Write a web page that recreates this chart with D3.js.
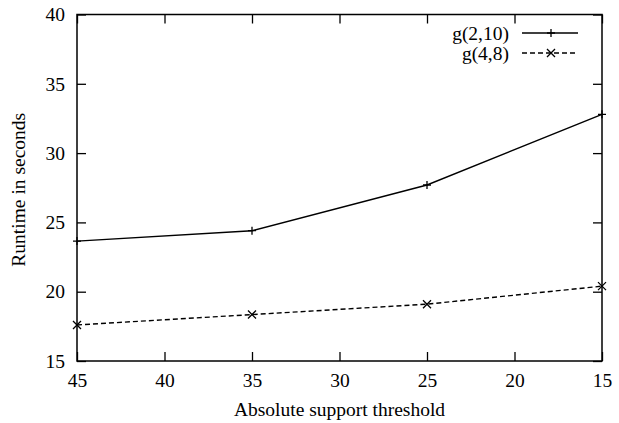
<!DOCTYPE html>
<html>
<head>
<meta charset="utf-8">
<script src="https://cdn.jsdelivr.net/npm/d3@7.9.0/dist/d3.min.js"></script>
<style>
  body { margin: 0; background: #fff; }
</style>
</head>
<body>
<div id="chart"></div>
<script>
// ---------- Data ----------
const thresholds = [45, 35, 25, 15];
const g210 = [23.65, 24.4, 27.7, 32.8];
const g48 = [17.6, 18.35, 19.1, 20.4];
const xTicks = [45, 40, 35, 30, 25, 20, 15];
const yTicks = [15, 20, 25, 30, 35, 40];

const series = [
  { name: "g(2,10)", values: g210, dash: null, marker: "plus" },
  { name: "g(4,8)", values: g48, dash: "5,3", marker: "cross" }
];

const FONT = "'Liberation Serif', 'Times New Roman', serif";
const FS = "19.5px";

// ---------- Chart ----------
const width = 619, height = 423;
const usable = { left: 77, right: 602, top: 14.5, bottom: 361 };

const svg = d3.select("#chart")
  .append("svg")
  .attr("width", width)
  .attr("height", height);

const xScale = d3.scaleLinear().domain([45, 15]).range([usable.left, usable.right]);
const yScale = d3.scaleLinear().domain([15, 40]).range([usable.bottom, usable.top]);

const tickLen = 9;

// bottom axis with inward ticks, plus mirrored ticks on top and right
svg.append("g")
  .attr("transform", `translate(0,${usable.bottom})`)
  .call(d3.axisBottom(xScale).tickValues(xTicks).tickSize(-tickLen).tickPadding(12))
  .call(g => g.select(".domain").remove());

svg.append("g")
  .attr("transform", `translate(0,${usable.top})`)
  .call(d3.axisTop(xScale).tickValues(xTicks).tickSize(-tickLen).tickFormat(""))
  .call(g => g.select(".domain").remove());

svg.append("g")
  .attr("transform", `translate(${usable.left},0)`)
  .call(d3.axisLeft(yScale).tickValues(yTicks).tickSize(-tickLen).tickPadding(12))
  .call(g => g.select(".domain").remove());

svg.append("g")
  .attr("transform", `translate(${usable.right},0)`)
  .call(d3.axisRight(yScale).tickValues(yTicks).tickSize(-tickLen).tickFormat(""))
  .call(g => g.select(".domain").remove());

svg.selectAll(".tick line").attr("stroke", "#000").attr("stroke-width", 1.3);
svg.selectAll(".tick text")
  .style("font-family", FONT)
  .style("font-size", FS)
  .attr("fill", "#000");

// frame
svg.append("rect")
  .attr("x", usable.left)
  .attr("y", usable.top)
  .attr("width", usable.right - usable.left)
  .attr("height", usable.bottom - usable.top)
  .attr("fill", "none")
  .attr("stroke", "#000")
  .attr("stroke-width", 1.5);

// axis titles
svg.append("text")
  .attr("x", (usable.left + usable.right) / 2)
  .attr("y", 416)
  .attr("text-anchor", "middle")
  .style("font-family", FONT)
  .style("font-size", FS)
  .text("Absolute support threshold");

svg.append("text")
  .attr("transform", `translate(25,${(usable.top + usable.bottom) / 2 + 2}) rotate(-90)`)
  .attr("text-anchor", "middle")
  .style("font-family", FONT)
  .style("font-size", FS)
  .text("Runtime in seconds");

// markers
function drawMarker(g, type, cx, cy) {
  const s = 4;
  const p = type === "plus"
    ? `M${cx - s},${cy}H${cx + s}M${cx},${cy - s}V${cy + s}`
    : `M${cx - s},${cy - s}L${cx + s},${cy + s}M${cx - s},${cy + s}L${cx + s},${cy - s}`;
  g.append("path").attr("d", p).attr("stroke", "#000").attr("stroke-width", 1.3).attr("fill", "none");
}

const line = d3.line()
  .x(d => xScale(d[0]))
  .y(d => yScale(d[1]));

series.forEach(s => {
  const pts = thresholds.map((t, i) => [t, s.values[i]]);
  const g = svg.append("g");
  g.append("path")
    .attr("d", line(pts))
    .attr("fill", "none")
    .attr("stroke", "#000")
    .attr("stroke-width", 1.4)
    .attr("stroke-dasharray", s.dash);
  pts.forEach(p => drawMarker(g, s.marker, xScale(p[0]), yScale(p[1])));
});

// legend
const legend = svg.append("g");
series.forEach((s, i) => {
  const y = 33 + i * 20;
  legend.append("text")
    .attr("x", 509)
    .attr("y", y)
    .attr("dy", "0.35em")
    .attr("text-anchor", "end")
    .style("font-family", FONT)
    .style("font-size", FS)
    .text(s.name);
  legend.append("line")
    .attr("x1", 522).attr("x2", 578)
    .attr("y1", y).attr("y2", y)
    .attr("stroke", "#000")
    .attr("stroke-width", 1.4)
    .attr("stroke-dasharray", s.dash);
  drawMarker(legend, s.marker, 551, y);
});
</script>
</body>
</html>
